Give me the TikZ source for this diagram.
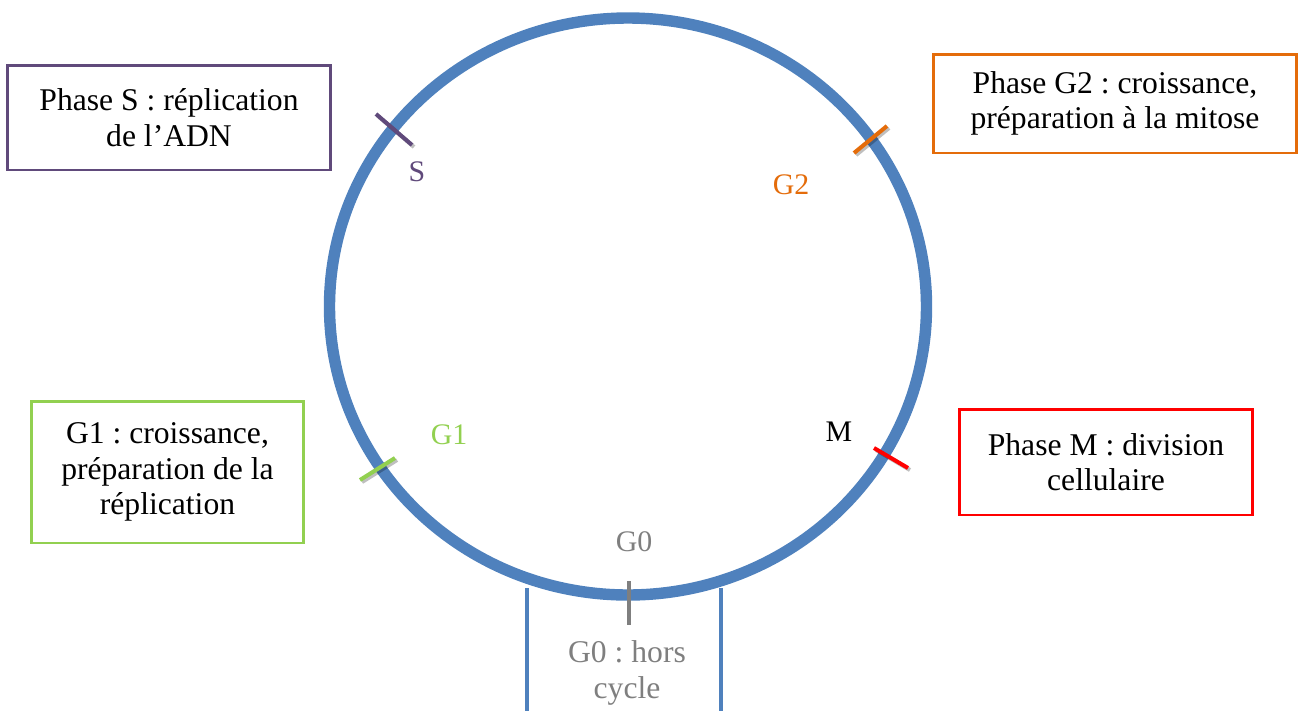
\documentclass[tikz,border=0pt]{standalone}
\usepackage{fontspec}
\setmainfont{Liberation Serif}
\usepackage{xcolor}
\usetikzlibrary{positioning}
\definecolor{cycleblue}{HTML}{4F81BD}
\definecolor{sviolet}{HTML}{604A7B}
\definecolor{gorange}{HTML}{E46C0A}
\definecolor{ggreen}{HTML}{92D050}
\definecolor{mred}{HTML}{FF0000}
\definecolor{zgray}{HTML}{7F7F7F}
\frenchspacing

\begin{document}
\begin{tikzpicture}[x=0.02cm, y=-0.02cm,
    phasebox/.style={draw, line width=1.7pt, align=center, inner sep=0pt, font=\fontsize{18}{20.2}\selectfont},
    lbl/.style={font=\fontsize{17}{19}\selectfont},
    tickmark/.style={line width=2.3pt},
    tickshadow/.style={line width=2.3pt, black, opacity=0.25, shift={(2,2)}}]
    \useasboundingbox (0,0) rectangle (1299,711);

    % Cycle
    \draw[cycleblue, line width=6.5pt] (628,306.5) ellipse [x radius=298.5, y radius=288.5];
    \draw[cycleblue, line width=2.3pt] (527,588) -- (527,711);
    \draw[cycleblue, line width=2.3pt] (721,588) -- (721,711);

    % Tick marks
    \draw[tickshadow] (376,114) -- (412,145);
    \draw[tickshadow] (854,153) -- (887,126);
    \draw[tickshadow] (360,480) -- (395,458);
    \draw[tickshadow] (874,448) -- (908,468);
    \draw[tickmark, sviolet] (376,114) -- (412,145);
    \draw[tickmark, gorange] (854,153) -- (887,126);
    \draw[tickmark, ggreen] (360,480) -- (395,458);
    \draw[tickmark, mred] (874,448) -- (908,468);
    \draw[line width=1.8pt, zgray] (629,581) -- (629,625);

    % Phase labels
    \node[lbl, sviolet] (labS) at (417,172) {S};
    \node[lbl, gorange] (labG2) at (791,185) {G2};
    \node[lbl, ggreen] (labG1) at (449,435) {G1};
    \node[lbl, black] (labM) at (839,432) {M};
    \node[lbl, zgray] (labG0) at (634,542) {G0};

    % Boxes
    \node[phasebox, draw=sviolet, minimum width=6.48cm, minimum height=2.1cm] (boxS) at (169,117.5) {Phase S : réplication\\de l’ADN};
    \node[phasebox, draw=gorange, minimum width=7.28cm, minimum height=1.98cm] (boxG2) at (1115,103.5) {Phase G2 : croissance,\\préparation à la mitose};
    \node[phasebox, draw=ggreen, minimum width=5.46cm, minimum height=2.84cm] (boxG1) at (167.5,472) {G1 : croissance,\\préparation de la\\réplication};
    \node[phasebox, draw=mred, minimum width=5.88cm, minimum height=2.12cm] (boxM) at (1106,462) {Phase M : division\\cellulaire};
    \node[align=center, text=zgray, font=\fontsize{18}{20.2}\selectfont] (boxG0) at (627,673) {G0 : hors\\cycle};
\end{tikzpicture}
\end{document}
